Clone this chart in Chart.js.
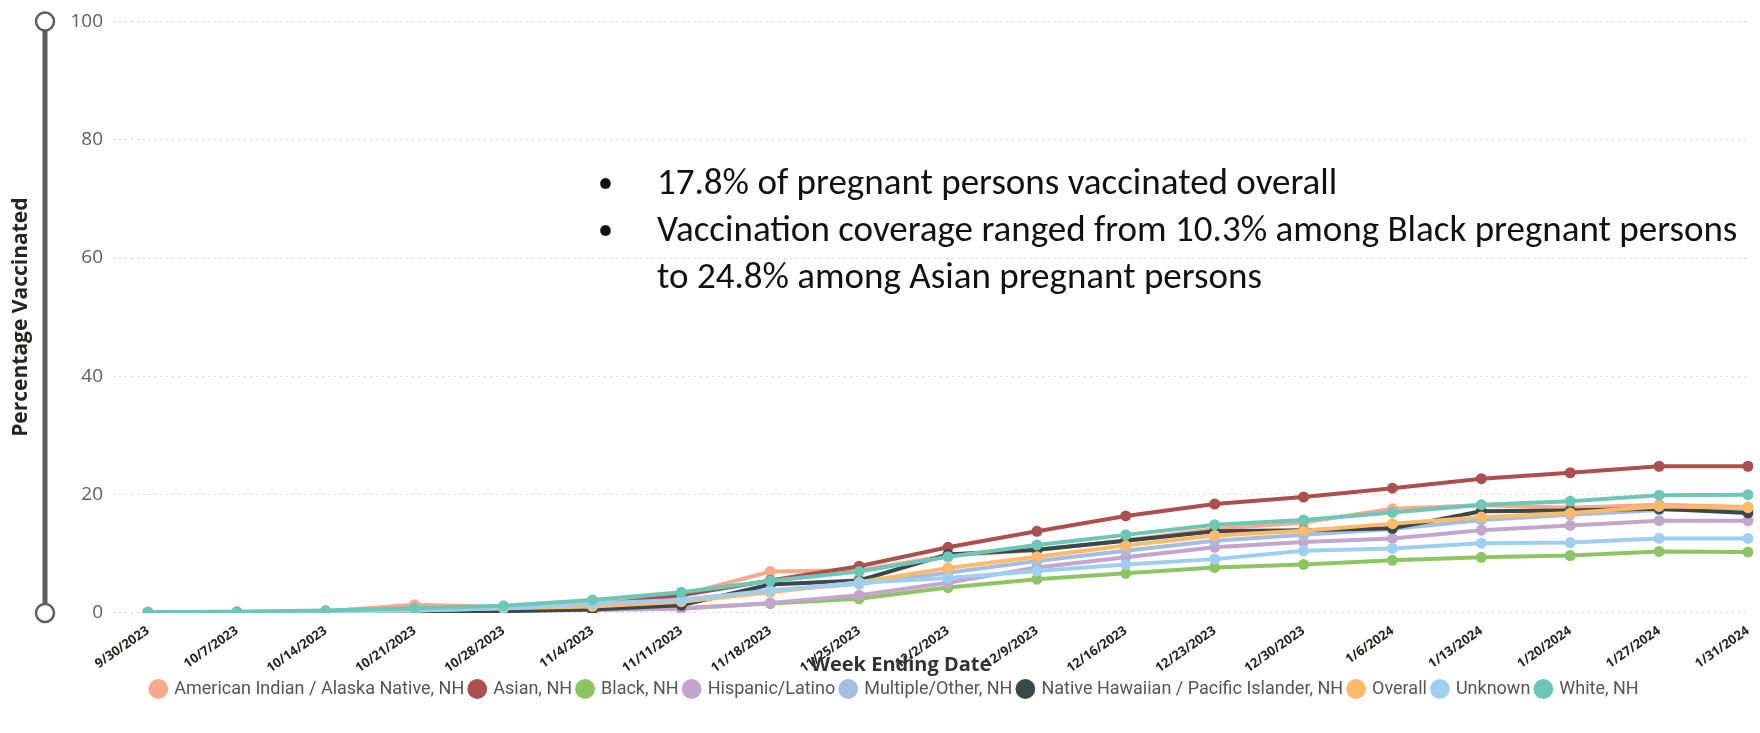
<!DOCTYPE html>
<html>
<head>
<meta charset="utf-8">
<script src="https://cdn.jsdelivr.net/npm/chart.js@4/dist/chart.umd.min.js"></script>
<style>
  html, body { margin: 0; padding: 0; background: #fff; }
  #wrap { position: relative; width: 1760px; height: 733px; }
  #note {
    position: absolute; left: 598px; top: 158px;
    font-family: Carlito, Calibri, Lato, sans-serif;
    font-size: 37px; line-height: 47px; color: #111;
  }
  #note .row { position: relative; padding-left: 59px; white-space: nowrap; }
  #note .row::before { content: "\2022"; position: absolute; left: 0; font-size: 30px; }
  #xtitle {
    position: absolute; left: 901px; top: 650px; transform: translateX(-50%);
    font-family: "Open Sans", sans-serif; font-weight: bold; font-size: 20px;
    color: #333; white-space: nowrap;
  }
</style>
</head>
<body>
<div id="wrap">
  <canvas id="chartCouverture" width="1760" height="733"></canvas>
  <div id="note">
    <div class="row">17.8% of pregnant persons vaccinated overall</div>
    <div class="row">Vaccination coverage ranged from 10.3% among Black pregnant persons<br>to 24.8% among Asian pregnant persons</div>
  </div>
  <div id="xtitle">Week Ending Date</div>
</div>
<script>
// ── DATA ─────────────────────────────────────────────
const semaines = [
  '9/30/2023', '10/7/2023', '10/14/2023', '10/21/2023', '10/28/2023',
  '11/4/2023', '11/11/2023', '11/18/2023', '11/25/2023', '12/2/2023',
  '12/9/2023', '12/16/2023', '12/23/2023', '12/30/2023', '1/6/2024',
  '1/13/2024', '1/20/2024', '1/27/2024', '1/31/2024'
];

const aian     = [0.1, 0.2, 0.3, 1.4, 1.0, 1.5, 3.0, 7.0, 7.2, 9.7, 10.6, 12.3, 14.2, 15.3, 17.6, 18.2, 17.8, 18.3, 17.9];
const asian    = [0.1, 0.1, 0.2, 0.4, 0.7, 1.2, 3.0, 5.5, 7.9, 11.1, 13.8, 16.4, 18.4, 19.6, 21.1, 22.7, 23.7, 24.8, 24.8];
const black    = [0.0, 0.0, 0.1, 0.2, 0.4, 0.6, 0.8, 1.6, 2.4, 4.3, 5.7, 6.7, 7.7, 8.2, 8.9, 9.4, 9.7, 10.4, 10.3];
const hispanic = [0.0, 0.0, 0.1, 0.2, 0.4, 0.5, 0.7, 1.7, 3.0, 5.1, 7.7, 9.4, 11.1, 12.0, 12.6, 14.0, 14.8, 15.6, 15.6];
const multiple = [0.1, 0.1, 0.2, 0.4, 0.8, 1.3, 2.2, 3.8, 4.9, 6.8, 8.8, 10.5, 12.2, 13.2, 14.2, 15.7, 16.6, 17.4, 17.5];
const nhpi     = [0.0, 0.0, 0.0, 0.1, 0.3, 0.6, 1.3, 4.8, 5.5, 9.9, 10.7, 12.2, 13.8, 14.0, 14.3, 17.2, 17.3, 17.6, 16.9];
const overall  = [0.0, 0.1, 0.2, 0.4, 0.8, 1.1, 1.9, 3.5, 5.2, 7.6, 9.5, 11.4, 13.1, 13.9, 15.1, 16.2, 16.9, 18.0, 17.8];
const unknown  = [0.0, 0.1, 0.2, 0.4, 0.8, 1.6, 2.2, 3.8, 5.1, 5.9, 7.1, 8.2, 9.1, 10.5, 10.9, 11.8, 11.9, 12.6, 12.6];
const white    = [0.1, 0.2, 0.4, 0.8, 1.2, 2.2, 3.5, 5.4, 7.0, 9.5, 11.5, 13.2, 14.9, 15.7, 17.0, 18.3, 18.9, 19.9, 20.0];

const yTicks = [0, 20, 40, 60, 80, 100];

// series: label, values, colour (legend order)
const series = [
  ['American Indian / Alaska Native, NH', aian, '#F9A98B'],
  ['Asian, NH', asian, '#AB4F4F'],
  ['Black, NH', black, '#8FC463'],
  ['Hispanic/Latino', hispanic, '#C4A5CD'],
  ['Multiple/Other, NH', multiple, '#A4BEE1'],
  ['Native Hawaiian / Pacific Islander, NH', nhpi, '#3A474B'],
  ['Overall', overall, '#FDBB6A'],
  ['Unknown', unknown, '#9ECFF0'],
  ['White, NH', white, '#6CC7B6']
];

// ── slider drawn to the left of the y axis ───────────
const sliderPlugin = {
  id: 'slider',
  beforeDraw(chart) {
    // nudge the legend a bit to the right, like the original
    chart.legend.left += 18;
    chart.legend.right += 18;
  },
  afterDraw(chart) {
    const { ctx } = chart;
    const y = chart.scales.y;
    const top = y.getPixelForValue(100);
    const bottom = y.getPixelForValue(0);
    const x = 45;
    ctx.save();
    ctx.strokeStyle = '#5E5E5E';
    ctx.lineWidth = 5;
    ctx.beginPath();
    ctx.moveTo(x, top);
    ctx.lineTo(x, bottom);
    ctx.stroke();
    [top, bottom].forEach(function (cy) {
      ctx.beginPath();
      ctx.arc(x, cy, 9, 0, Math.PI * 2);
      ctx.fillStyle = '#fff';
      ctx.fill();
      ctx.lineWidth = 2.5;
      ctx.strokeStyle = '#5E5E5E';
      ctx.stroke();
    });
    ctx.restore();
  }
};

new Chart(document.getElementById('chartCouverture'), {
  type: 'line',
  data: {
    labels: semaines,
    datasets: series.map(function (s, i) {
      return {
        label: s[0],
        data: s[1],
        borderColor: s[2],
        backgroundColor: s[2],
        borderWidth: 4,
        pointRadius: 5.5,
        pointBorderWidth: 0,
        tension: 0,
        order: series.length - i   // later series drawn on top
      };
    })
  },
  options: {
    responsive: false,
    animation: false,
    layout: { padding: { left: 6, right: 12, top: 15, bottom: 25 } },
    plugins: {
      legend: {
        position: 'bottom',
        labels: {
          sort: function (a, b) { return a.datasetIndex - b.datasetIndex; },
          usePointStyle: true,
          pointStyle: 'circle',
          boxWidth: 14,
          boxHeight: 14,
          padding: 6,
          color: '#555',
          font: { family: 'Roboto, sans-serif', size: 18 }
        }
      },
      tooltip: { enabled: false }
    },
    scales: {
      y: {
        min: 0,
        max: 100,
        afterBuildTicks: function (scale) {
          scale.ticks = yTicks.map(function (v) { return { value: v }; });
        },
        afterFit: function (scale) { scale.width = 142; },
        border: { display: false, dash: [2, 4] },
        grid: {
          color: '#D9D9D9',
          tickBorderDash: [2, 4],
          tickColor: '#D9D9D9',
          tickLength: 35,
          lineWidth: 1
        },
        ticks: {
          padding: 10,
          color: '#605E5C',
          font: { family: '"Open Sans", sans-serif', size: 19 }
        },
        title: {
          display: true,
          text: 'Percentage Vaccinated',
          color: '#252423',
          padding: { top: 2, bottom: 0 },
          font: { family: '"Open Sans", sans-serif', size: 21, weight: 'bold' }
        }
      },
      x: {
        offset: false,
        border: { display: false },
        grid: { display: false },
        afterFit: function (scale) { scale.height = scale.height - 4; },
        ticks: {
          autoSkip: false,
          minRotation: 35,
          maxRotation: 35,
          padding: 2,
          color: '#252423',
          font: { family: '"Open Sans", sans-serif', size: 13, weight: 'bold' }
        }
      }
    }
  },
  plugins: [sliderPlugin]
});
</script>
</body>
</html>
